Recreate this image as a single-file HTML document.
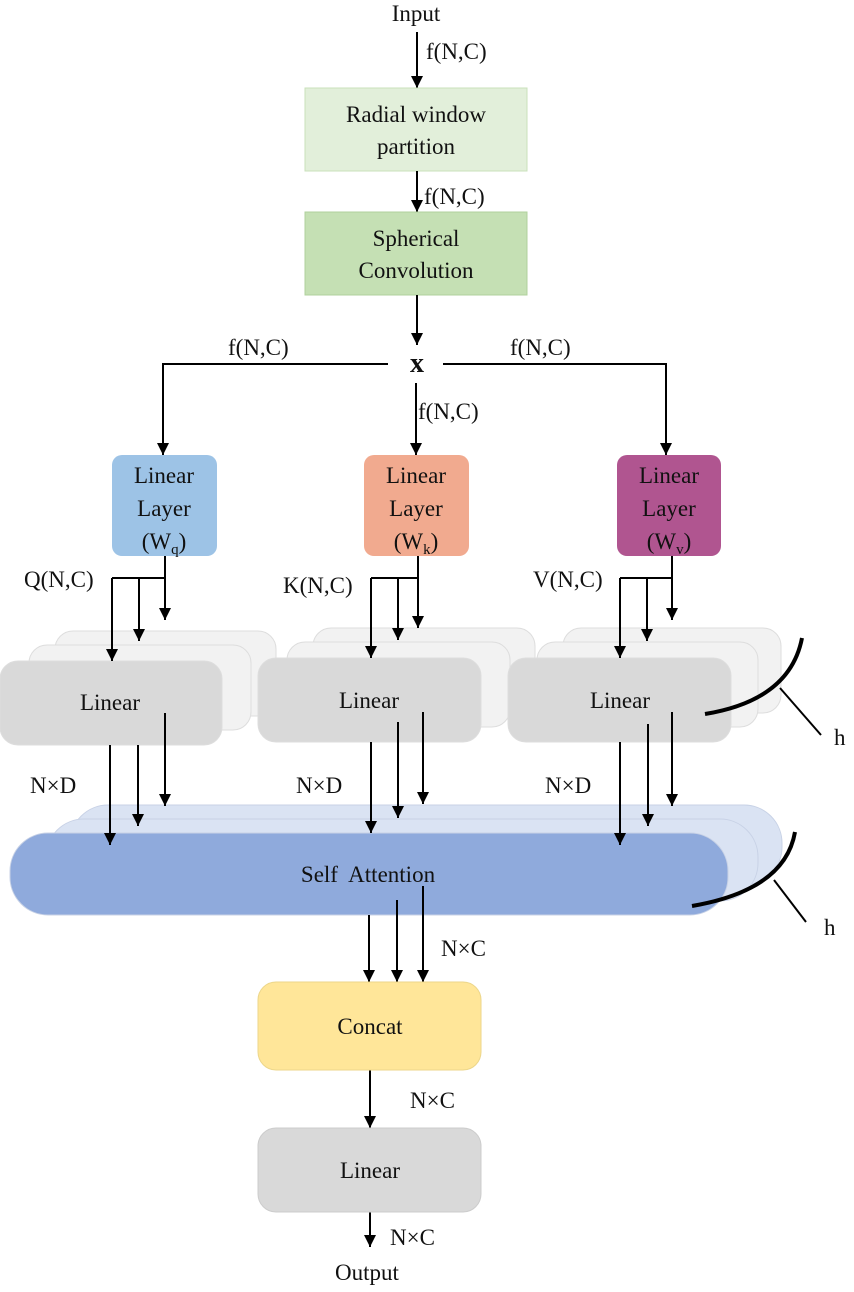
<!DOCTYPE html>
<html><head><style>
body{margin:0;background:#fff}
text{font-family:"Liberation Serif","Times New Roman",serif;font-size:23px;fill:#111}
</style></head><body>
<svg width="854" height="1287" viewBox="0 0 854 1287" xmlns="http://www.w3.org/2000/svg" font-family="Liberation Serif, serif" font-size="23">
<defs>
<marker id="b" viewBox="0 0 10 10" refX="10" refY="5" markerWidth="12" markerHeight="12" orient="auto" markerUnits="userSpaceOnUse"><path d="M0,0 L10,5 L0,10 z" fill="#000"/></marker></defs>
<g stroke="#000" stroke-width="2" fill="none">
<line x1="417" y1="32" x2="417" y2="88" marker-end="url(#b)"/>
<rect x="305" y="88" width="222" height="83" fill="#e2efda" stroke="#c9e0bb" stroke-width="1"/>
<line x1="417" y1="171" x2="417" y2="212" marker-end="url(#b)"/>
<rect x="305" y="212" width="222" height="83" fill="#c5e0b4" stroke="#b0d19c" stroke-width="1"/>
<line x1="417" y1="295" x2="417" y2="345" marker-end="url(#b)"/>
<polyline points="388,364 163,364 163,455" marker-end="url(#b)"/>
<polyline points="443,364 666,364 666,455" marker-end="url(#b)"/>
<line x1="416" y1="383" x2="416" y2="455" marker-end="url(#b)"/>
</g>
<text x="416" y="21" text-anchor="middle">Input</text>
<text x="426" y="59">f(N,C)</text>
<text x="424" y="204">f(N,C)</text>
<text x="416" y="122" text-anchor="middle">Radial window</text>
<text x="416" y="154" text-anchor="middle">partition</text>
<text x="416" y="246" text-anchor="middle">Spherical</text>
<text x="416" y="278" text-anchor="middle">Convolution</text>
<text x="417" y="372" text-anchor="middle" font-weight="bold" style="font-size:28px">x</text>
<text x="228" y="355">f(N,C)</text>
<text x="510" y="355">f(N,C)</text>
<text x="418" y="419">f(N,C)</text>

<rect x="112" y="455" width="105" height="101" rx="10" fill="#9dc3e6"/>
<rect x="364" y="455" width="105" height="101" rx="10" fill="#f1aa8f"/>
<rect x="617" y="455" width="104" height="101" rx="10" fill="#b05590"/>
<g text-anchor="middle">
<text x="164" y="483">Linear</text><text x="164" y="516">Layer</text><text x="164" y="549">(W<tspan style="font-size:15px" dy="5">q</tspan><tspan dy="-5">)</tspan></text>
<text x="416" y="483">Linear</text><text x="416" y="516">Layer</text><text x="416" y="549">(W<tspan style="font-size:15px" dy="5">k</tspan><tspan dy="-5">)</tspan></text>
<text x="669" y="483">Linear</text><text x="669" y="516">Layer</text><text x="669" y="549">(W<tspan style="font-size:15px" dy="5">v</tspan><tspan dy="-5">)</tspan></text>
</g>

<g stroke="#ddd" stroke-width="1">
<rect x="55" y="631" width="221" height="85" rx="18" fill="#f2f2f2"/>
<rect x="29" y="645" width="222" height="85" rx="18" fill="#f2f2f2"/>
<rect x="0" y="661" width="222" height="84" rx="18" fill="#d9d9d9"/>
<rect x="313" y="628" width="222" height="85" rx="18" fill="#f2f2f2"/>
<rect x="287" y="642" width="223" height="85" rx="18" fill="#f2f2f2"/>
<rect x="258" y="658" width="223" height="84" rx="18" fill="#d9d9d9"/>
<rect x="563" y="628" width="218" height="85" rx="18" fill="#f2f2f2"/>
<rect x="537" y="642" width="221" height="85" rx="18" fill="#f2f2f2"/>
<rect x="508" y="658" width="223" height="84" rx="18" fill="#d9d9d9"/>
</g>
<g text-anchor="middle"><text x="110" y="710">Linear</text><text x="369" y="708">Linear</text><text x="620" y="708">Linear</text></g>
<text x="24" y="587">Q(N,C)</text><text x="283" y="593">K(N,C)</text><text x="533" y="587">V(N,C)</text>

<g stroke="#000" stroke-width="2" fill="none">
<line x1="165" y1="556" x2="165" y2="620" marker-end="url(#b)"/>
<line x1="112" y1="578" x2="165" y2="578"/>
<line x1="112" y1="578" x2="112" y2="661" marker-end="url(#b)"/>
<line x1="139" y1="578" x2="139" y2="641" marker-end="url(#b)"/>
<line x1="418" y1="556" x2="418" y2="628" marker-end="url(#b)"/>
<line x1="371" y1="578" x2="418" y2="578"/>
<line x1="371" y1="578" x2="371" y2="658" marker-end="url(#b)"/>
<line x1="398" y1="578" x2="398" y2="640" marker-end="url(#b)"/>
<line x1="672" y1="556" x2="672" y2="620" marker-end="url(#b)"/>
<line x1="620" y1="578" x2="672" y2="578"/>
<line x1="620" y1="578" x2="620" y2="658" marker-end="url(#b)"/>
<line x1="647" y1="578" x2="647" y2="641" marker-end="url(#b)"/>
</g>
<path d="M705,714 Q790,700 802,638" stroke="#000" stroke-width="4" fill="none"/>
<line x1="780" y1="688" x2="821" y2="735" stroke="#000" stroke-width="2"/>
<text x="834" y="745">h</text>

<g stroke="#c8d2e6" stroke-width="1">
<rect x="70" y="805" width="712" height="80" rx="38" fill="#dae3f3"/>
<rect x="46" y="819" width="712" height="82" rx="38" fill="#dae3f3"/>
<rect x="10" y="833" width="718" height="82" rx="38" fill="#8faadc"/>
</g>
<text x="368" y="882" text-anchor="middle">Self&#160; Attention</text>
<text x="30" y="793">N×D</text><text x="296" y="793">N×D</text><text x="545" y="793">N×D</text>
<g stroke="#000" stroke-width="2" fill="none">
<line x1="110" y1="745" x2="110" y2="845" marker-end="url(#b)"/>
<line x1="138" y1="745" x2="138" y2="826" marker-end="url(#b)"/>
<line x1="165" y1="713" x2="165" y2="806" marker-end="url(#b)"/>
<line x1="371" y1="742" x2="371" y2="833" marker-end="url(#b)"/>
<line x1="398" y1="722" x2="398" y2="818" marker-end="url(#b)"/>
<line x1="423" y1="712" x2="423" y2="804" marker-end="url(#b)"/>
<line x1="620" y1="742" x2="620" y2="845" marker-end="url(#b)"/>
<line x1="648" y1="724" x2="648" y2="826" marker-end="url(#b)"/>
<line x1="672" y1="712" x2="672" y2="806" marker-end="url(#b)"/>
<line x1="369" y1="915" x2="369" y2="982" marker-end="url(#b)"/>
<line x1="397" y1="900" x2="397" y2="982" marker-end="url(#b)"/>
<line x1="423" y1="886" x2="423" y2="982" marker-end="url(#b)"/>
<line x1="370" y1="1070" x2="370" y2="1128" marker-end="url(#b)"/>
<line x1="370" y1="1212" x2="370" y2="1247" marker-end="url(#b)"/>
</g>
<path d="M692,906 Q785,890 795,832" stroke="#000" stroke-width="4" fill="none"/>
<line x1="774" y1="880" x2="806" y2="922" stroke="#000" stroke-width="2"/>
<text x="824" y="935">h</text>
<text x="441" y="956">N×C</text>

<rect x="258" y="982" width="223" height="88" rx="18" fill="#ffe699" stroke="#ecd68a" stroke-width="1"/>
<text x="370" y="1034" text-anchor="middle">Concat</text>
<text x="410" y="1108">N×C</text>
<rect x="258" y="1128" width="223" height="84" rx="18" fill="#d9d9d9" stroke="#ccc" stroke-width="1"/>
<text x="370" y="1178" text-anchor="middle">Linear</text>
<text x="390" y="1245">N×C</text>
<text x="367" y="1280" text-anchor="middle">Output</text>
</svg>
</body></html>
